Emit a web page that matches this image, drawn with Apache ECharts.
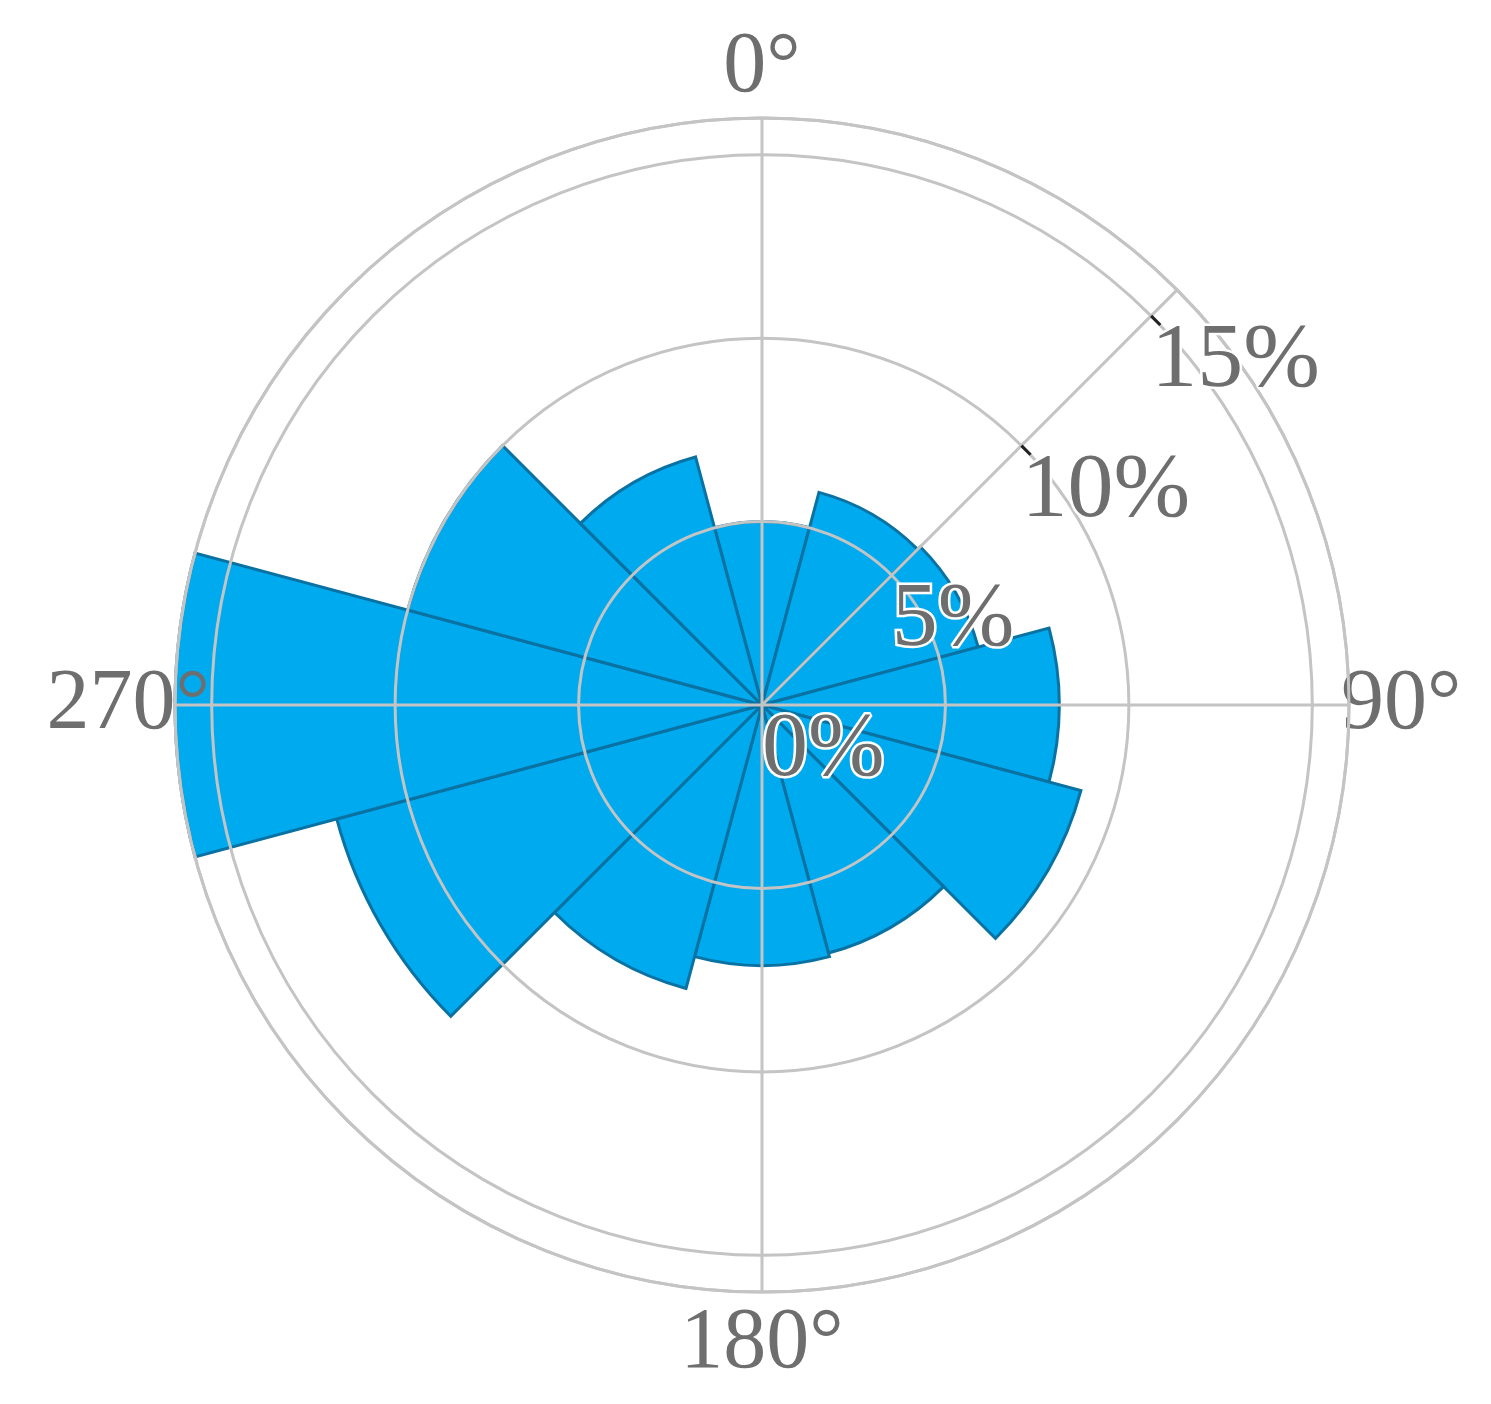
<!DOCTYPE html>
<html>
<head>
<meta charset="utf-8">
<script src="https://cdn.jsdelivr.net/npm/echarts@6/dist/echarts.min.js"></script>
<style>
  html, body { margin: 0; padding: 0; background: #fff; }
  #main { width: 1491px; height: 1404px; }
</style>
</head>
<body>
<div id="main"></div>
<script>
// wind direction bins (30° each) and frequency in %
var directions = ['0°', '30°', '60°', '90°', '120°', '150°', '180°', '210°', '240°', '270°', '300°', '330°'];
var frequency = [5.0, 6.0, 6.1, 8.1, 9.0, 7.0, 7.1, 8.0, 12.0, 16.0, 10.0, 7.0];
var angleTicks = [0, 90, 180, 270];
var radiusTicks = [0, 5, 10, 15];
var radiusTickMarks = [10, 15];

var gridColor = '#c4c4c4';
var textColor = '#6e6e6e';
var center = [762, 705];
var radius = 587;

var myChart = echarts.init(document.getElementById('main'));

var option = {
    animation: false,
    polar: [
        {center: center, radius: radius},   // grid + angle labels
        {center: center, radius: radius},   // radial axis along 45°
        {center: center, radius: radius}    // bars
    ],
    angleAxis: [{
        polarIndex: 0,
        type: 'value',
        min: 0,
        max: 360,
        interval: 90,
        startAngle: 90,
        clockwise: true,
        z: 10,
        axisLine: {show: true, lineStyle: {color: gridColor, width: 3}},
        axisTick: {show: false},
        splitLine: {show: true, lineStyle: {color: gridColor, width: 3}},
        axisLabel: {
            margin: -35,
            formatter: function (v) {
                if (angleTicks.indexOf(v) < 0) return '';
                return '{d' + v + '|' + v + '°}';
            },
            rich: {
                d0: {fontSize: 86, fontFamily: 'Liberation Serif', color: textColor, padding: [0, 0, 42, 0]},
                d90: {fontSize: 86, fontFamily: 'Liberation Serif', color: textColor, padding: [0, 0, 0, 27]},
                d180: {fontSize: 86, fontFamily: 'Liberation Serif', color: textColor, padding: [44, 0, 0, 0]},
                d270: {fontSize: 86, fontFamily: 'Liberation Serif', color: textColor}
            }
        }
    }, {
        polarIndex: 1,
        type: 'value',
        min: 0,
        max: 360,
        startAngle: 45,
        clockwise: true,
        show: false
    }, {
        polarIndex: 2,
        type: 'category',
        data: directions,
        startAngle: 105,
        clockwise: true,
        show: false
    }],
    radiusAxis: [{
        polarIndex: 0,
        min: 0,
        max: 16,
        interval: 5,
        z: 10,
        axisLine: {show: false},
        axisTick: {show: false},
        axisLabel: {show: false},
        splitLine: {show: true, lineStyle: {color: gridColor, width: 3}}
    }, {
        polarIndex: 1,
        min: 0,
        max: 16,
        interval: 5,
        z: 20,
        axisLine: {show: true, lineStyle: {color: gridColor, width: 3}},
        axisTick: {
            show: true,
            length: -13,
            customValues: radiusTickMarks,
            lineStyle: {color: '#222', width: 3}
        },
        splitLine: {show: false},
        axisLabel: {
            inside: true,
            margin: 0,
            align: 'left',
            verticalAlign: 'top',
            fontSize: 92,
            fontFamily: 'Liberation Serif',
            color: textColor,
            textBorderColor: '#fff',
            textBorderWidth: 5,
            customValues: radiusTicks,
            formatter: function (v) {
                return v + '%';
            }
        }
    }, {
        polarIndex: 2,
        min: 0,
        max: 16,
        show: false
    }],
    series: [{
        type: 'bar',
        coordinateSystem: 'polar',
        polarIndex: 2,
        barCategoryGap: '0%',
        z: 2,
        itemStyle: {
            color: '#00aaee',
            borderColor: '#0a72a3',
            borderWidth: 3
        },
        data: frequency
    }]
};

myChart.setOption(option);
</script>
</body>
</html>
